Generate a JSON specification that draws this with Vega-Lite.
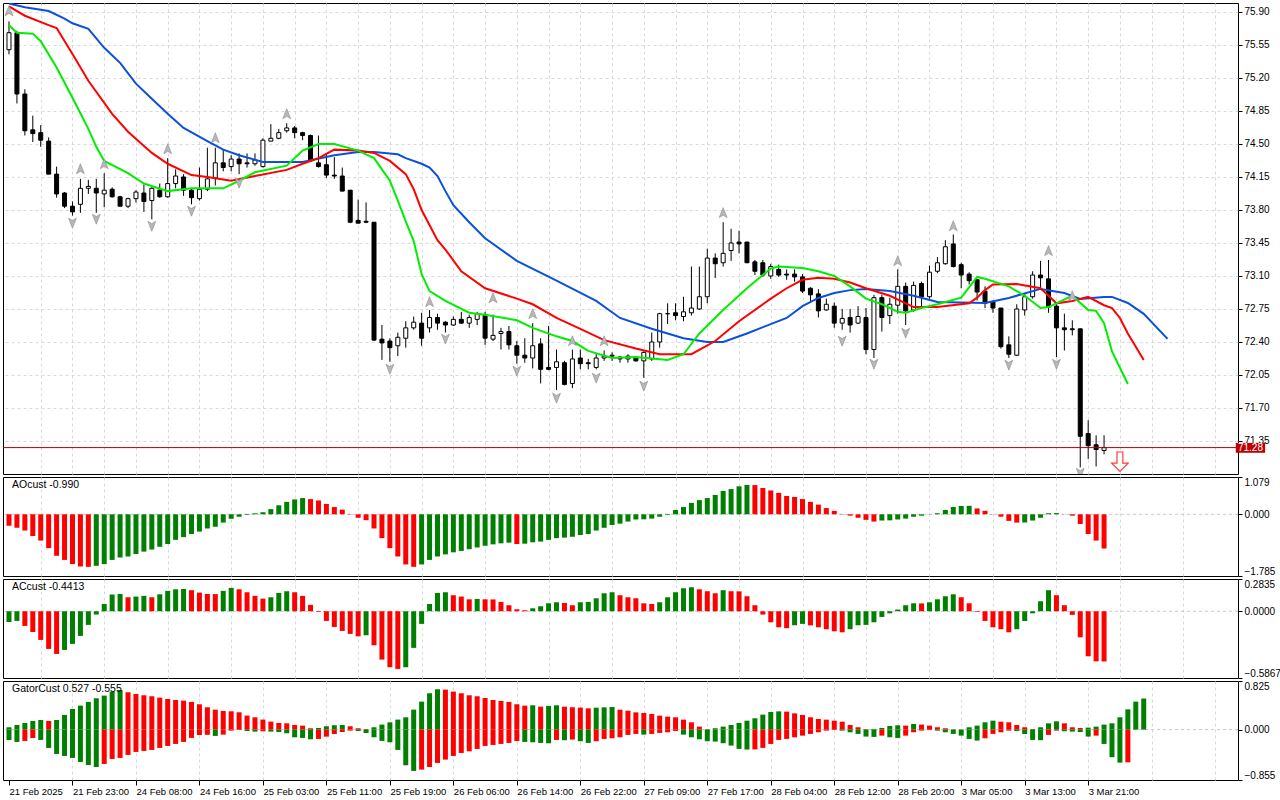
{
"$schema":"https://vega.github.io/schema/vega-lite/v6.json",
"padding":{"left":2,"top":2,"right":0,"bottom":0},
"background":"white",
"spacing":3,
"bounds":"flush",
"config":{"view":{"stroke":"black","strokeWidth":1},"concat":{"spacing":3},
"axis":{"labelFont":"Liberation Sans","labelFontSize":10,"labelColor":"black","tickColor":"black","domainColor":"black","gridColor":"#d9d9d9","gridDash":[3,3],"title":null,"labelOverlap":false},
"text":{"font":"Liberation Sans"}},
"datasets":{
"candles":[
{"i":0,"o":75.50,"h":75.80,"l":75.45,"c":75.68},{"i":1,"o":75.68,"h":75.70,"l":74.93,"c":75.03},{"i":2,"o":75.03,"h":75.08,"l":74.59,"c":74.64},{"i":3,"o":74.65,"h":74.80,"l":74.52,"c":74.61},{"i":4,"o":74.62,"h":74.70,"l":74.47,"c":74.54},{"i":5,"o":74.53,"h":74.57,"l":74.18,"c":74.18},{"i":6,"o":74.18,"h":74.26,"l":73.93,"c":73.97},{"i":7,"o":73.98,"h":73.99,"l":73.82,"c":73.84},{"i":8,"o":73.84,"h":73.89,"l":73.74,"c":73.78},{"i":9,"o":73.86,"h":74.13,"l":73.77,"c":74.03},
{"i":10,"o":74.03,"h":74.12,"l":73.97,"c":74.05},{"i":11,"o":74.03,"h":74.13,"l":73.77,"c":73.98},{"i":12,"o":73.97,"h":74.19,"l":73.83,"c":74.01},{"i":13,"o":74.02,"h":74.04,"l":73.93,"c":73.94},{"i":14,"o":73.94,"h":73.95,"l":73.84,"c":73.84},{"i":15,"o":73.84,"h":73.93,"l":73.82,"c":73.92},{"i":16,"o":73.92,"h":74.01,"l":73.88,"c":73.99},{"i":17,"o":73.98,"h":74.07,"l":73.78,"c":73.89},{"i":18,"o":73.90,"h":74.04,"l":73.70,"c":74.03},{"i":19,"o":74.01,"h":74.08,"l":73.93,"c":73.94},
{"i":20,"o":73.94,"h":74.35,"l":73.93,"c":74.08},{"i":21,"o":74.08,"h":74.23,"l":74.03,"c":74.16},{"i":22,"o":74.15,"h":74.18,"l":73.95,"c":74.01},{"i":23,"o":74.01,"h":74.03,"l":73.86,"c":73.93},{"i":24,"o":73.92,"h":74.25,"l":73.90,"c":74.02},{"i":25,"o":74.02,"h":74.46,"l":74.00,"c":74.13},{"i":26,"o":74.14,"h":74.46,"l":74.06,"c":74.30},{"i":27,"o":74.30,"h":74.44,"l":74.21,"c":74.25},{"i":28,"o":74.26,"h":74.38,"l":74.21,"c":74.34},{"i":29,"o":74.34,"h":74.40,"l":74.18,"c":74.29},
{"i":30,"o":74.30,"h":74.40,"l":74.25,"c":74.29},{"i":31,"o":74.29,"h":74.40,"l":74.27,"c":74.33},{"i":32,"o":74.26,"h":74.56,"l":74.25,"c":74.54},{"i":33,"o":74.53,"h":74.71,"l":74.53,"c":74.56},{"i":34,"o":74.56,"h":74.66,"l":74.55,"c":74.62},{"i":35,"o":74.64,"h":74.72,"l":74.62,"c":74.67},{"i":36,"o":74.67,"h":74.69,"l":74.56,"c":74.62},{"i":37,"o":74.62,"h":74.63,"l":74.54,"c":74.59},{"i":38,"o":74.59,"h":74.60,"l":74.31,"c":74.32},{"i":39,"o":74.30,"h":74.59,"l":74.25,"c":74.26},
{"i":40,"o":74.28,"h":74.40,"l":74.14,"c":74.17},{"i":41,"o":74.17,"h":74.36,"l":74.13,"c":74.16},{"i":42,"o":74.16,"h":74.25,"l":74.00,"c":74.00},{"i":43,"o":74.01,"h":74.01,"l":73.66,"c":73.67},{"i":44,"o":73.69,"h":73.91,"l":73.66,"c":73.66},{"i":45,"o":73.68,"h":73.88,"l":73.66,"c":73.67},{"i":46,"o":73.67,"h":73.67,"l":72.41,"c":72.42},{"i":47,"o":72.43,"h":72.58,"l":72.21,"c":72.39},{"i":48,"o":72.41,"h":72.44,"l":72.19,"c":72.34},{"i":49,"o":72.36,"h":72.50,"l":72.25,"c":72.45},
{"i":50,"o":72.44,"h":72.62,"l":72.34,"c":72.55},{"i":51,"o":72.55,"h":72.67,"l":72.53,"c":72.61},{"i":52,"o":72.60,"h":72.71,"l":72.36,"c":72.44},{"i":53,"o":72.55,"h":72.74,"l":72.50,"c":72.66},{"i":54,"o":72.66,"h":72.70,"l":72.53,"c":72.60},{"i":55,"o":72.61,"h":72.62,"l":72.50,"c":72.58},{"i":56,"o":72.58,"h":72.67,"l":72.57,"c":72.64},{"i":57,"o":72.64,"h":72.72,"l":72.59,"c":72.60},{"i":58,"o":72.60,"h":72.69,"l":72.55,"c":72.66},{"i":59,"o":72.64,"h":72.72,"l":72.58,"c":72.70},
{"i":60,"o":72.68,"h":72.72,"l":72.37,"c":72.44},{"i":61,"o":72.43,"h":72.69,"l":72.41,"c":72.47},{"i":62,"o":72.49,"h":72.55,"l":72.32,"c":72.51},{"i":63,"o":72.51,"h":72.57,"l":72.32,"c":72.37},{"i":64,"o":72.36,"h":72.41,"l":72.17,"c":72.26},{"i":65,"o":72.26,"h":72.44,"l":72.18,"c":72.23},{"i":66,"o":72.23,"h":72.60,"l":72.12,"c":72.36},{"i":67,"o":72.38,"h":72.44,"l":71.96,"c":72.11},{"i":68,"o":72.13,"h":72.57,"l":72.10,"c":72.11},{"i":69,"o":72.13,"h":72.32,"l":71.89,"c":72.19},
{"i":70,"o":72.18,"h":72.20,"l":71.94,"c":71.95},{"i":71,"o":71.96,"h":72.32,"l":71.91,"c":72.22},{"i":72,"o":72.23,"h":72.32,"l":72.11,"c":72.17},{"i":73,"o":72.18,"h":72.22,"l":72.11,"c":72.17},{"i":74,"o":72.13,"h":72.28,"l":72.11,"c":72.23},{"i":75,"o":72.23,"h":72.31,"l":72.20,"c":72.25},{"i":76,"o":72.25,"h":72.29,"l":72.20,"c":72.26},{"i":77,"o":72.24,"h":72.25,"l":72.18,"c":72.22},{"i":78,"o":72.22,"h":72.27,"l":72.18,"c":72.25},{"i":79,"o":72.24,"h":72.25,"l":72.19,"c":72.20},
{"i":80,"o":72.20,"h":72.30,"l":72.02,"c":72.29},{"i":81,"o":72.22,"h":72.50,"l":72.20,"c":72.40},{"i":82,"o":72.40,"h":72.71,"l":72.34,"c":72.70},{"i":83,"o":72.70,"h":72.81,"l":72.59,"c":72.70},{"i":84,"o":72.71,"h":72.81,"l":72.63,"c":72.68},{"i":85,"o":72.67,"h":72.88,"l":72.62,"c":72.72},{"i":86,"o":72.71,"h":73.20,"l":72.68,"c":72.76},{"i":87,"o":72.75,"h":73.20,"l":72.74,"c":72.88},{"i":88,"o":72.88,"h":73.39,"l":72.81,"c":73.29},{"i":89,"o":73.29,"h":73.34,"l":73.08,"c":73.23},
{"i":90,"o":73.24,"h":73.67,"l":73.20,"c":73.34},{"i":91,"o":73.37,"h":73.60,"l":73.26,"c":73.45},{"i":92,"o":73.46,"h":73.58,"l":73.34,"c":73.44},{"i":93,"o":73.46,"h":73.46,"l":73.24,"c":73.24},{"i":94,"o":73.25,"h":73.27,"l":73.11,"c":73.15},{"i":95,"o":73.24,"h":73.27,"l":73.09,"c":73.11},{"i":96,"o":73.10,"h":73.23,"l":73.07,"c":73.20},{"i":97,"o":73.17,"h":73.22,"l":73.09,"c":73.11},{"i":98,"o":73.12,"h":73.17,"l":73.06,"c":73.11},{"i":99,"o":73.12,"h":73.17,"l":73.04,"c":73.09},
{"i":100,"o":73.09,"h":73.12,"l":72.92,"c":72.94},{"i":101,"o":72.97,"h":72.98,"l":72.82,"c":72.90},{"i":102,"o":72.91,"h":72.96,"l":72.66,"c":72.73},{"i":103,"o":72.74,"h":72.86,"l":72.73,"c":72.80},{"i":104,"o":72.78,"h":72.82,"l":72.55,"c":72.60},{"i":105,"o":72.60,"h":72.75,"l":72.53,"c":72.65},{"i":106,"o":72.66,"h":72.75,"l":72.50,"c":72.58},{"i":107,"o":72.60,"h":72.78,"l":72.59,"c":72.67},{"i":108,"o":72.66,"h":72.76,"l":72.27,"c":72.32},{"i":109,"o":72.32,"h":72.90,"l":72.23,"c":72.87},
{"i":110,"o":72.87,"h":72.90,"l":72.51,"c":72.66},{"i":111,"o":72.68,"h":72.87,"l":72.59,"c":72.80},{"i":112,"o":72.79,"h":73.17,"l":72.70,"c":72.99},{"i":113,"o":72.99,"h":73.03,"l":72.58,"c":72.73},{"i":114,"o":72.74,"h":73.04,"l":72.72,"c":73.00},{"i":115,"o":73.02,"h":73.04,"l":72.78,"c":72.88},{"i":116,"o":72.88,"h":73.21,"l":72.86,"c":73.14},{"i":117,"o":73.15,"h":73.30,"l":73.13,"c":73.24},{"i":118,"o":73.23,"h":73.48,"l":73.22,"c":73.41},{"i":119,"o":73.44,"h":73.54,"l":73.19,"c":73.20},
{"i":120,"o":73.22,"h":73.24,"l":72.97,"c":73.11},{"i":121,"o":73.12,"h":73.14,"l":73.01,"c":73.05},{"i":122,"o":73.06,"h":73.07,"l":72.84,"c":72.93},{"i":123,"o":72.94,"h":72.99,"l":72.76,"c":72.81},{"i":124,"o":72.83,"h":72.84,"l":72.71,"c":72.76},{"i":125,"o":72.76,"h":72.76,"l":72.33,"c":72.35},{"i":126,"o":72.37,"h":72.46,"l":72.23,"c":72.27},{"i":127,"o":72.26,"h":72.80,"l":72.25,"c":72.75},{"i":128,"o":72.74,"h":72.92,"l":72.68,"c":72.88},{"i":129,"o":72.88,"h":73.15,"l":72.86,"c":73.11},
{"i":130,"o":73.11,"h":73.26,"l":72.97,"c":73.08},{"i":131,"o":73.07,"h":73.27,"l":72.71,"c":72.77},{"i":132,"o":72.78,"h":72.80,"l":72.24,"c":72.55},{"i":133,"o":72.55,"h":72.70,"l":72.31,"c":72.53},{"i":134,"o":72.54,"h":72.63,"l":72.47,"c":72.53},{"i":135,"o":72.54,"h":72.54,"l":71.07,"c":71.40},{"i":136,"o":71.43,"h":71.57,"l":71.16,"c":71.30},{"i":137,"o":71.31,"h":71.41,"l":71.08,"c":71.26},{"i":138,"o":71.25,"h":71.41,"l":71.21,"c":71.28}
],
"alligator":[
{"i":0,"k":"jaw","v":75.99},{"i":2,"k":"jaw","v":75.95},{"i":5,"k":"jaw","v":75.91},{"i":7,"k":"jaw","v":75.83},{"i":8,"k":"jaw","v":75.78},{"i":10,"k":"jaw","v":75.72},{"i":12,"k":"jaw","v":75.52},{"i":14,"k":"jaw","v":75.36},{"i":16,"k":"jaw","v":75.14},{"i":18,"k":"jaw","v":74.98},{"i":20,"k":"jaw","v":74.82},{"i":22,"k":"jaw","v":74.67},{"i":25,"k":"jaw","v":74.53},{"i":27,"k":"jaw","v":74.44},{"i":29,"k":"jaw","v":74.38},{"i":32,"k":"jaw","v":74.31},{"i":37,"k":"jaw","v":74.31},{"i":41,"k":"jaw","v":74.38},{"i":44,"k":"jaw","v":74.415},{"i":46,"k":"jaw","v":74.415},{"i":49,"k":"jaw","v":74.39},{"i":50,"k":"jaw","v":74.35},{"i":52,"k":"jaw","v":74.29},{"i":53,"k":"jaw","v":74.25},{"i":54,"k":"jaw","v":74.16},{"i":55,"k":"jaw","v":74.0},{"i":56,"k":"jaw","v":73.85},{"i":58,"k":"jaw","v":73.67},{"i":60,"k":"jaw","v":73.50},{"i":64,"k":"jaw","v":73.26},{"i":69,"k":"jaw","v":73.05},{"i":74,"k":"jaw","v":72.835},{"i":77,"k":"jaw","v":72.655},{"i":81,"k":"jaw","v":72.54},{"i":85,"k":"jaw","v":72.44},{"i":88,"k":"jaw","v":72.40},{"i":90,"k":"jaw","v":72.40},{"i":93,"k":"jaw","v":72.49},{"i":96,"k":"jaw","v":72.59},{"i":98,"k":"jaw","v":72.655},{"i":100,"k":"jaw","v":72.78},{"i":102,"k":"jaw","v":72.867},{"i":104,"k":"jaw","v":72.92},{"i":106,"k":"jaw","v":72.95},{"i":108,"k":"jaw","v":72.963},{"i":111,"k":"jaw","v":72.94},{"i":114,"k":"jaw","v":72.89},{"i":117,"k":"jaw","v":72.825},{"i":123,"k":"jaw","v":72.814},{"i":126,"k":"jaw","v":72.867},{"i":130,"k":"jaw","v":72.963},{"i":133,"k":"jaw","v":72.92},{"i":135,"k":"jaw","v":72.857},{"i":138,"k":"jaw","v":72.878},{"i":139,"k":"jaw","v":72.878},{"i":141,"k":"jaw","v":72.814},{"i":143,"k":"jaw","v":72.698},{"i":146,"k":"jaw","v":72.433},
{"i":0,"k":"teeth","v":75.96},{"i":2,"k":"teeth","v":75.86},{"i":5,"k":"teeth","v":75.76},{"i":6,"k":"teeth","v":75.73},{"i":8,"k":"teeth","v":75.455},{"i":10,"k":"teeth","v":75.17},{"i":13,"k":"teeth","v":74.82},{"i":15,"k":"teeth","v":74.63},{"i":18,"k":"teeth","v":74.405},{"i":20,"k":"teeth","v":74.29},{"i":23,"k":"teeth","v":74.17},{"i":25,"k":"teeth","v":74.15},{"i":28,"k":"teeth","v":74.11},{"i":31,"k":"teeth","v":74.16},{"i":35,"k":"teeth","v":74.225},{"i":37,"k":"teeth","v":74.29},{"i":39,"k":"teeth","v":74.35},{"i":41,"k":"teeth","v":74.44},{"i":44,"k":"teeth","v":74.43},{"i":46,"k":"teeth","v":74.405},{"i":48,"k":"teeth","v":74.32},{"i":50,"k":"teeth","v":74.18},{"i":51,"k":"teeth","v":74.02},{"i":52,"k":"teeth","v":73.80},{"i":54,"k":"teeth","v":73.48},{"i":55,"k":"teeth","v":73.38},{"i":57,"k":"teeth","v":73.15},{"i":60,"k":"teeth","v":72.97},{"i":64,"k":"teeth","v":72.86},{"i":66,"k":"teeth","v":72.80},{"i":69,"k":"teeth","v":72.655},{"i":72,"k":"teeth","v":72.54},{"i":75,"k":"teeth","v":72.42},{"i":79,"k":"teeth","v":72.33},{"i":82,"k":"teeth","v":72.27},{"i":86,"k":"teeth","v":72.27},{"i":89,"k":"teeth","v":72.41},{"i":92,"k":"teeth","v":72.62},{"i":96,"k":"teeth","v":72.86},{"i":98,"k":"teeth","v":72.97},{"i":100,"k":"teeth","v":73.06},{"i":102,"k":"teeth","v":73.08},{"i":104,"k":"teeth","v":73.07},{"i":106,"k":"teeth","v":73.03},{"i":108,"k":"teeth","v":72.97},{"i":111,"k":"teeth","v":72.89},{"i":114,"k":"teeth","v":72.77},{"i":117,"k":"teeth","v":72.77},{"i":121,"k":"teeth","v":72.81},{"i":122,"k":"teeth","v":72.87},{"i":123,"k":"teeth","v":72.95},{"i":124,"k":"teeth","v":73.01},{"i":127,"k":"teeth","v":73.016},{"i":130,"k":"teeth","v":72.97},{"i":132,"k":"teeth","v":72.81},{"i":134,"k":"teeth","v":72.835},{"i":136,"k":"teeth","v":72.878},{"i":138,"k":"teeth","v":72.79},{"i":139,"k":"teeth","v":72.76},{"i":140,"k":"teeth","v":72.655},{"i":141,"k":"teeth","v":72.49},{"i":143,"k":"teeth","v":72.21},
{"i":0,"k":"lips","v":75.76},{"i":1,"k":"lips","v":75.68},{"i":3,"k":"lips","v":75.67},{"i":4,"k":"lips","v":75.59},{"i":6,"k":"lips","v":75.31},{"i":8,"k":"lips","v":74.99},{"i":10,"k":"lips","v":74.66},{"i":11,"k":"lips","v":74.47},{"i":12,"k":"lips","v":74.32},{"i":15,"k":"lips","v":74.19},{"i":17,"k":"lips","v":74.08},{"i":20,"k":"lips","v":74.00},{"i":23,"k":"lips","v":74.03},{"i":27,"k":"lips","v":74.03},{"i":29,"k":"lips","v":74.11},{"i":31,"k":"lips","v":74.20},{"i":35,"k":"lips","v":74.27},{"i":37,"k":"lips","v":74.43},{"i":39,"k":"lips","v":74.50},{"i":41,"k":"lips","v":74.50},{"i":44,"k":"lips","v":74.43},{"i":46,"k":"lips","v":74.35},{"i":48,"k":"lips","v":74.11},{"i":49,"k":"lips","v":73.90},{"i":50,"k":"lips","v":73.68},{"i":51,"k":"lips","v":73.47},{"i":52,"k":"lips","v":73.12},{"i":53,"k":"lips","v":72.94},{"i":55,"k":"lips","v":72.835},{"i":58,"k":"lips","v":72.71},{"i":60,"k":"lips","v":72.69},{"i":64,"k":"lips","v":72.63},{"i":66,"k":"lips","v":72.55},{"i":69,"k":"lips","v":72.46},{"i":71,"k":"lips","v":72.41},{"i":73,"k":"lips","v":72.305},{"i":76,"k":"lips","v":72.23},{"i":79,"k":"lips","v":72.24},{"i":83,"k":"lips","v":72.21},{"i":85,"k":"lips","v":72.27},{"i":87,"k":"lips","v":72.49},{"i":90,"k":"lips","v":72.74},{"i":93,"k":"lips","v":72.97},{"i":96,"k":"lips","v":73.18},{"i":97,"k":"lips","v":73.20},{"i":100,"k":"lips","v":73.185},{"i":102,"k":"lips","v":73.15},{"i":104,"k":"lips","v":73.10},{"i":106,"k":"lips","v":72.99},{"i":108,"k":"lips","v":72.86},{"i":110,"k":"lips","v":72.80},{"i":112,"k":"lips","v":72.72},{"i":113,"k":"lips","v":72.71},{"i":115,"k":"lips","v":72.76},{"i":117,"k":"lips","v":72.80},{"i":120,"k":"lips","v":72.87},{"i":122,"k":"lips","v":73.09},{"i":123,"k":"lips","v":73.07},{"i":126,"k":"lips","v":72.99},{"i":128,"k":"lips","v":72.89},{"i":130,"k":"lips","v":72.76},{"i":131,"k":"lips","v":72.77},{"i":134,"k":"lips","v":72.89},{"i":136,"k":"lips","v":72.74},{"i":137,"k":"lips","v":72.73},{"i":138,"k":"lips","v":72.60},{"i":139,"k":"lips","v":72.30},{"i":141,"k":"lips","v":71.955}
],
"fractals":[
{"i":0,"p":75.91,"d":"up"},{"i":9,"p":74.235,"d":"up"},{"i":12,"p":74.288,"d":"up"},{"i":20,"p":74.447,"d":"up"},{"i":26,"p":74.564,"d":"up"},{"i":35,"p":74.818,"d":"up"},{"i":53,"p":72.825,"d":"up"},{"i":61,"p":72.867,"d":"up"},{"i":66,"p":72.698,"d":"up"},{"i":71,"p":72.411,"d":"up"},{"i":75,"p":72.411,"d":"up"},{"i":90,"p":73.769,"d":"up"},{"i":112,"p":73.26,"d":"up"},{"i":119,"p":73.63,"d":"up"},{"i":131,"p":73.366,"d":"up"},{"i":134,"p":72.888,"d":"up"},
{"i":8,"p":73.663,"d":"down"},{"i":11,"p":73.705,"d":"down"},{"i":18,"p":73.63,"d":"down"},{"i":23,"p":73.79,"d":"down"},{"i":29,"p":74.087,"d":"down"},{"i":48,"p":72.114,"d":"down"},{"i":55,"p":72.433,"d":"down"},{"i":64,"p":72.093,"d":"down"},{"i":69,"p":71.807,"d":"down"},{"i":74,"p":72.019,"d":"down"},{"i":80,"p":71.934,"d":"down"},{"i":105,"p":72.411,"d":"down"},{"i":109,"p":72.167,"d":"down"},{"i":113,"p":72.496,"d":"down"},{"i":126,"p":72.157,"d":"down"},{"i":132,"p":72.167,"d":"down"},{"i":135,"p":71.01,"d":"down"}
],
"signal":[{"i":140,"p":71.13}],
"ao":[
{"i":0,"v":-0.33,"d":"d"},{"i":1,"v":-0.39,"d":"d"},{"i":2,"v":-0.47,"d":"d"},{"i":3,"v":-0.63,"d":"d"},{"i":4,"v":-0.76,"d":"d"},{"i":5,"v":-0.98,"d":"d"},{"i":6,"v":-1.20,"d":"d"},{"i":7,"v":-1.32,"d":"d"},{"i":8,"v":-1.44,"d":"d"},{"i":9,"v":-1.51,"d":"d"},
{"i":10,"v":-1.52,"d":"d"},{"i":11,"v":-1.49,"d":"u"},{"i":12,"v":-1.44,"d":"u"},{"i":13,"v":-1.32,"d":"u"},{"i":14,"v":-1.25,"d":"u"},{"i":15,"v":-1.22,"d":"u"},{"i":16,"v":-1.15,"d":"u"},{"i":17,"v":-1.08,"d":"u"},{"i":18,"v":-1.02,"d":"u"},{"i":19,"v":-0.94,"d":"u"},
{"i":20,"v":-0.86,"d":"u"},{"i":21,"v":-0.74,"d":"u"},{"i":22,"v":-0.66,"d":"u"},{"i":23,"v":-0.57,"d":"u"},{"i":24,"v":-0.50,"d":"u"},{"i":25,"v":-0.41,"d":"u"},{"i":26,"v":-0.36,"d":"u"},{"i":27,"v":-0.24,"d":"u"},{"i":28,"v":-0.13,"d":"u"},{"i":29,"v":-0.07,"d":"u"},
{"i":30,"v":-0.02,"d":"u"},{"i":31,"v":0.03,"d":"u"},{"i":32,"v":0.06,"d":"u"},{"i":33,"v":0.15,"d":"u"},{"i":34,"v":0.26,"d":"u"},{"i":35,"v":0.36,"d":"u"},{"i":36,"v":0.43,"d":"u"},{"i":37,"v":0.47,"d":"u"},{"i":38,"v":0.44,"d":"d"},{"i":39,"v":0.40,"d":"d"},
{"i":40,"v":0.30,"d":"d"},{"i":41,"v":0.21,"d":"d"},{"i":42,"v":0.135,"d":"d"},{"i":43,"v":0.01,"d":"d"},{"i":44,"v":-0.10,"d":"d"},{"i":45,"v":-0.17,"d":"d"},{"i":46,"v":-0.41,"d":"d"},{"i":47,"v":-0.69,"d":"d"},{"i":48,"v":-0.98,"d":"d"},{"i":49,"v":-1.22,"d":"d"},
{"i":50,"v":-1.45,"d":"d"},{"i":51,"v":-1.52,"d":"d"},{"i":52,"v":-1.45,"d":"u"},{"i":53,"v":-1.32,"d":"u"},{"i":54,"v":-1.22,"d":"u"},{"i":55,"v":-1.16,"d":"u"},{"i":56,"v":-1.10,"d":"u"},{"i":57,"v":-1.06,"d":"u"},{"i":58,"v":-1.01,"d":"u"},{"i":59,"v":-0.96,"d":"u"},
{"i":60,"v":-0.91,"d":"u"},{"i":61,"v":-0.87,"d":"u"},{"i":62,"v":-0.84,"d":"u"},{"i":63,"v":-0.82,"d":"u"},{"i":64,"v":-0.86,"d":"d"},{"i":65,"v":-0.85,"d":"u"},{"i":66,"v":-0.81,"d":"u"},{"i":67,"v":-0.79,"d":"u"},{"i":68,"v":-0.74,"d":"u"},{"i":69,"v":-0.69,"d":"u"},
{"i":70,"v":-0.675,"d":"u"},{"i":71,"v":-0.65,"d":"u"},{"i":72,"v":-0.60,"d":"u"},{"i":73,"v":-0.57,"d":"u"},{"i":74,"v":-0.47,"d":"u"},{"i":75,"v":-0.39,"d":"u"},{"i":76,"v":-0.31,"d":"u"},{"i":77,"v":-0.27,"d":"u"},{"i":78,"v":-0.21,"d":"u"},{"i":79,"v":-0.15,"d":"u"},
{"i":80,"v":-0.145,"d":"u"},{"i":81,"v":-0.125,"d":"u"},{"i":82,"v":-0.07,"d":"u"},{"i":83,"v":-0.02,"d":"u"},{"i":84,"v":0.125,"d":"u"},{"i":85,"v":0.21,"d":"u"},{"i":86,"v":0.33,"d":"u"},{"i":87,"v":0.41,"d":"u"},{"i":88,"v":0.47,"d":"u"},{"i":89,"v":0.56,"d":"u"},
{"i":90,"v":0.675,"d":"u"},{"i":91,"v":0.73,"d":"u"},{"i":92,"v":0.81,"d":"u"},{"i":93,"v":0.85,"d":"u"},{"i":94,"v":0.845,"d":"d"},{"i":95,"v":0.76,"d":"d"},{"i":96,"v":0.69,"d":"d"},{"i":97,"v":0.62,"d":"d"},{"i":98,"v":0.53,"d":"d"},{"i":99,"v":0.50,"d":"d"},
{"i":100,"v":0.44,"d":"d"},{"i":101,"v":0.36,"d":"d"},{"i":102,"v":0.28,"d":"d"},{"i":103,"v":0.18,"d":"d"},{"i":104,"v":0.10,"d":"d"},{"i":105,"v":0.01,"d":"d"},{"i":106,"v":-0.04,"d":"d"},{"i":107,"v":-0.10,"d":"d"},{"i":108,"v":-0.16,"d":"d"},{"i":109,"v":-0.21,"d":"d"},
{"i":110,"v":-0.18,"d":"u"},{"i":111,"v":-0.175,"d":"u"},{"i":112,"v":-0.15,"d":"u"},{"i":113,"v":-0.125,"d":"u"},{"i":114,"v":-0.07,"d":"u"},{"i":115,"v":-0.04,"d":"u"},{"i":116,"v":0.005,"d":"u"},{"i":117,"v":0.03,"d":"u"},{"i":118,"v":0.125,"d":"u"},{"i":119,"v":0.21,"d":"u"},
{"i":120,"v":0.24,"d":"u"},{"i":121,"v":0.245,"d":"u"},{"i":122,"v":0.17,"d":"d"},{"i":123,"v":0.10,"d":"d"},{"i":124,"v":-0.005,"d":"d"},{"i":125,"v":-0.07,"d":"d"},{"i":126,"v":-0.19,"d":"d"},{"i":127,"v":-0.24,"d":"d"},{"i":128,"v":-0.235,"d":"u"},{"i":129,"v":-0.18,"d":"u"},
{"i":130,"v":-0.10,"d":"u"},{"i":131,"v":0.03,"d":"u"},{"i":132,"v":0.035,"d":"u"},{"i":133,"v":0.005,"d":"d"},{"i":134,"v":-0.04,"d":"d"},{"i":135,"v":-0.28,"d":"d"},{"i":136,"v":-0.57,"d":"d"},{"i":137,"v":-0.76,"d":"d"},{"i":138,"v":-0.99,"d":"d"}
],
"ac":[
{"i":0,"v":-0.094,"d":"u"},{"i":1,"v":-0.085,"d":"u"},{"i":2,"v":-0.129,"d":"d"},{"i":3,"v":-0.182,"d":"d"},{"i":4,"v":-0.252,"d":"d"},{"i":5,"v":-0.331,"d":"d"},{"i":6,"v":-0.375,"d":"d"},{"i":7,"v":-0.340,"d":"u"},{"i":8,"v":-0.287,"d":"u"},{"i":9,"v":-0.217,"d":"u"},
{"i":10,"v":-0.120,"d":"u"},{"i":11,"v":-0.029,"d":"u"},{"i":12,"v":0.064,"d":"u"},{"i":13,"v":0.147,"d":"u"},{"i":14,"v":0.152,"d":"u"},{"i":15,"v":0.123,"d":"d"},{"i":16,"v":0.129,"d":"u"},{"i":17,"v":0.135,"d":"u"},{"i":18,"v":0.123,"d":"d"},{"i":19,"v":0.149,"d":"u"},
{"i":20,"v":0.179,"d":"u"},{"i":21,"v":0.193,"d":"u"},{"i":22,"v":0.196,"d":"u"},{"i":23,"v":0.185,"d":"d"},{"i":24,"v":0.164,"d":"d"},{"i":25,"v":0.152,"d":"d"},{"i":26,"v":0.151,"d":"d"},{"i":27,"v":0.179,"d":"u"},{"i":28,"v":0.205,"d":"u"},{"i":29,"v":0.193,"d":"d"},
{"i":30,"v":0.167,"d":"d"},{"i":31,"v":0.135,"d":"d"},{"i":32,"v":0.111,"d":"d"},{"i":33,"v":0.123,"d":"u"},{"i":34,"v":0.161,"d":"u"},{"i":35,"v":0.176,"d":"u"},{"i":36,"v":0.167,"d":"d"},{"i":37,"v":0.135,"d":"d"},{"i":38,"v":0.056,"d":"d"},{"i":39,"v":-0.006,"d":"d"},
{"i":40,"v":-0.085,"d":"d"},{"i":41,"v":-0.138,"d":"d"},{"i":42,"v":-0.173,"d":"d"},{"i":43,"v":-0.199,"d":"d"},{"i":44,"v":-0.220,"d":"d"},{"i":45,"v":-0.211,"d":"u"},{"i":46,"v":-0.299,"d":"d"},{"i":47,"v":-0.425,"d":"d"},{"i":48,"v":-0.492,"d":"d"},{"i":49,"v":-0.507,"d":"d"},
{"i":50,"v":-0.492,"d":"u"},{"i":51,"v":-0.322,"d":"u"},{"i":52,"v":-0.111,"d":"u"},{"i":53,"v":0.064,"d":"u"},{"i":54,"v":0.161,"d":"u"},{"i":55,"v":0.167,"d":"u"},{"i":56,"v":0.141,"d":"d"},{"i":57,"v":0.129,"d":"d"},{"i":58,"v":0.105,"d":"d"},{"i":59,"v":0.108,"d":"u"},
{"i":60,"v":0.105,"d":"d"},{"i":61,"v":0.104,"d":"d"},{"i":62,"v":0.082,"d":"d"},{"i":63,"v":0.053,"d":"d"},{"i":64,"v":0.018,"d":"d"},{"i":65,"v":0.009,"d":"d"},{"i":66,"v":0.026,"d":"u"},{"i":67,"v":0.044,"d":"u"},{"i":68,"v":0.070,"d":"u"},{"i":69,"v":0.079,"d":"u"},
{"i":70,"v":0.073,"d":"d"},{"i":71,"v":0.053,"d":"d"},{"i":72,"v":0.079,"d":"u"},{"i":73,"v":0.082,"d":"u"},{"i":74,"v":0.114,"d":"u"},{"i":75,"v":0.158,"d":"u"},{"i":76,"v":0.167,"d":"u"},{"i":77,"v":0.141,"d":"d"},{"i":78,"v":0.123,"d":"d"},{"i":79,"v":0.114,"d":"d"},
{"i":80,"v":0.070,"d":"d"},{"i":81,"v":0.064,"d":"d"},{"i":82,"v":0.079,"d":"u"},{"i":83,"v":0.123,"d":"u"},{"i":84,"v":0.167,"d":"u"},{"i":85,"v":0.202,"d":"u"},{"i":86,"v":0.211,"d":"u"},{"i":87,"v":0.193,"d":"d"},{"i":88,"v":0.176,"d":"d"},{"i":89,"v":0.158,"d":"d"},
{"i":90,"v":0.185,"d":"u"},{"i":91,"v":0.176,"d":"d"},{"i":92,"v":0.175,"d":"d"},{"i":93,"v":0.132,"d":"d"},{"i":94,"v":0.053,"d":"d"},{"i":95,"v":-0.029,"d":"d"},{"i":96,"v":-0.097,"d":"d"},{"i":97,"v":-0.141,"d":"d"},{"i":98,"v":-0.149,"d":"d"},{"i":99,"v":-0.123,"d":"u"},
{"i":100,"v":-0.111,"d":"u"},{"i":101,"v":-0.124,"d":"d"},{"i":102,"v":-0.141,"d":"d"},{"i":103,"v":-0.158,"d":"d"},{"i":104,"v":-0.176,"d":"d"},{"i":105,"v":-0.185,"d":"d"},{"i":106,"v":-0.158,"d":"u"},{"i":107,"v":-0.123,"d":"u"},{"i":108,"v":-0.120,"d":"u"},{"i":109,"v":-0.097,"d":"u"},
{"i":110,"v":-0.050,"d":"u"},{"i":111,"v":-0.018,"d":"u"},{"i":112,"v":0.015,"d":"u"},{"i":113,"v":0.053,"d":"u"},{"i":114,"v":0.070,"d":"u"},{"i":115,"v":0.069,"d":"d"},{"i":116,"v":0.079,"d":"u"},{"i":117,"v":0.105,"d":"u"},{"i":118,"v":0.132,"d":"u"},{"i":119,"v":0.149,"d":"u"},
{"i":120,"v":0.123,"d":"d"},{"i":121,"v":0.070,"d":"d"},{"i":122,"v":-0.006,"d":"d"},{"i":123,"v":-0.085,"d":"d"},{"i":124,"v":-0.141,"d":"d"},{"i":125,"v":-0.158,"d":"d"},{"i":126,"v":-0.185,"d":"d"},{"i":127,"v":-0.158,"d":"u"},{"i":128,"v":-0.085,"d":"u"},{"i":129,"v":-0.018,"d":"u"},
{"i":130,"v":0.088,"d":"u"},{"i":131,"v":0.185,"d":"u"},{"i":132,"v":0.141,"d":"d"},{"i":133,"v":0.053,"d":"d"},{"i":134,"v":-0.032,"d":"d"},{"i":135,"v":-0.229,"d":"d"},{"i":136,"v":-0.396,"d":"d"},{"i":137,"v":-0.440,"d":"d"},{"i":138,"v":-0.4413,"d":"d"}
],
"gator":[
{"i":0,"v":0.040,"d":"u"},{"i":1,"v":0.079,"d":"u"},{"i":2,"v":0.113,"d":"u"},{"i":3,"v":0.147,"d":"u"},{"i":4,"v":0.164,"d":"u"},{"i":5,"v":0.147,"d":"d"},{"i":6,"v":0.164,"d":"u"},{"i":7,"v":0.249,"d":"u"},{"i":8,"v":0.351,"d":"u"},{"i":9,"v":0.407,"d":"u"},
{"i":10,"v":0.470,"d":"u"},{"i":11,"v":0.532,"d":"u"},{"i":12,"v":0.577,"d":"u"},{"i":13,"v":0.645,"d":"u"},{"i":14,"v":0.673,"d":"u"},{"i":15,"v":0.634,"d":"d"},{"i":16,"v":0.605,"d":"d"},{"i":17,"v":0.583,"d":"d"},{"i":18,"v":0.566,"d":"d"},{"i":19,"v":0.543,"d":"d"},
{"i":20,"v":0.520,"d":"d"},{"i":21,"v":0.503,"d":"d"},{"i":22,"v":0.492,"d":"d"},{"i":23,"v":0.470,"d":"d"},{"i":24,"v":0.430,"d":"d"},{"i":25,"v":0.379,"d":"d"},{"i":26,"v":0.339,"d":"d"},{"i":27,"v":0.317,"d":"d"},{"i":28,"v":0.311,"d":"d"},{"i":29,"v":0.294,"d":"d"},
{"i":30,"v":0.238,"d":"d"},{"i":31,"v":0.209,"d":"d"},{"i":32,"v":0.170,"d":"d"},{"i":33,"v":0.136,"d":"d"},{"i":34,"v":0.113,"d":"d"},{"i":35,"v":0.107,"d":"d"},{"i":36,"v":0.079,"d":"d"},{"i":37,"v":0.068,"d":"d"},{"i":38,"v":0.023,"d":"d"},{"i":39,"v":0.028,"d":"u"},
{"i":40,"v":0.057,"d":"u"},{"i":41,"v":0.074,"d":"u"},{"i":42,"v":0.079,"d":"u"},{"i":43,"v":0.057,"d":"d"},{"i":44,"v":0.023,"d":"d"},{"i":45,"v":0.011,"d":"d"},{"i":46,"v":0.040,"d":"u"},{"i":47,"v":0.085,"d":"u"},{"i":48,"v":0.124,"d":"u"},{"i":49,"v":0.170,"d":"u"},
{"i":50,"v":0.209,"d":"u"},{"i":51,"v":0.339,"d":"u"},{"i":52,"v":0.475,"d":"u"},{"i":53,"v":0.617,"d":"u"},{"i":54,"v":0.685,"d":"u"},{"i":55,"v":0.679,"d":"d"},{"i":56,"v":0.645,"d":"d"},{"i":57,"v":0.617,"d":"d"},{"i":58,"v":0.583,"d":"d"},{"i":59,"v":0.566,"d":"d"},
{"i":60,"v":0.537,"d":"d"},{"i":61,"v":0.503,"d":"d"},{"i":62,"v":0.487,"d":"d"},{"i":63,"v":0.470,"d":"d"},{"i":64,"v":0.430,"d":"d"},{"i":65,"v":0.407,"d":"d"},{"i":66,"v":0.413,"d":"u"},{"i":67,"v":0.390,"d":"d"},{"i":68,"v":0.402,"d":"u"},{"i":69,"v":0.413,"d":"u"},
{"i":70,"v":0.389,"d":"d"},{"i":71,"v":0.380,"d":"d"},{"i":72,"v":0.374,"d":"d"},{"i":73,"v":0.361,"d":"d"},{"i":74,"v":0.372,"d":"u"},{"i":75,"v":0.378,"d":"u"},{"i":76,"v":0.384,"d":"u"},{"i":77,"v":0.338,"d":"d"},{"i":78,"v":0.321,"d":"d"},{"i":79,"v":0.293,"d":"d"},
{"i":80,"v":0.282,"d":"d"},{"i":81,"v":0.265,"d":"d"},{"i":82,"v":0.237,"d":"d"},{"i":83,"v":0.220,"d":"d"},{"i":84,"v":0.209,"d":"d"},{"i":85,"v":0.169,"d":"d"},{"i":86,"v":0.124,"d":"d"},{"i":87,"v":0.051,"d":"d"},{"i":88,"v":0.008,"d":"d"},{"i":89,"v":0.023,"d":"u"},
{"i":90,"v":0.051,"d":"u"},{"i":91,"v":0.079,"d":"u"},{"i":92,"v":0.113,"d":"u"},{"i":93,"v":0.152,"d":"u"},{"i":94,"v":0.192,"d":"u"},{"i":95,"v":0.254,"d":"u"},{"i":96,"v":0.299,"d":"u"},{"i":97,"v":0.310,"d":"u"},{"i":98,"v":0.305,"d":"d"},{"i":99,"v":0.276,"d":"d"},
{"i":100,"v":0.248,"d":"d"},{"i":101,"v":0.209,"d":"d"},{"i":102,"v":0.180,"d":"d"},{"i":103,"v":0.169,"d":"d"},{"i":104,"v":0.152,"d":"d"},{"i":105,"v":0.135,"d":"d"},{"i":106,"v":0.079,"d":"d"},{"i":107,"v":0.040,"d":"d"},{"i":108,"v":0.008,"d":"d"},{"i":109,"v":0.012,"d":"u"},
{"i":110,"v":0.028,"d":"u"},{"i":111,"v":0.062,"d":"u"},{"i":112,"v":0.073,"d":"u"},{"i":113,"v":0.068,"d":"d"},{"i":114,"v":0.096,"d":"u"},{"i":115,"v":0.085,"d":"d"},{"i":116,"v":0.068,"d":"d"},{"i":117,"v":0.040,"d":"d"},{"i":118,"v":0.023,"d":"d"},{"i":119,"v":0.006,"d":"d"},
{"i":120,"v":0.003,"d":"d"},{"i":121,"v":0.040,"d":"u"},{"i":122,"v":0.068,"d":"u"},{"i":123,"v":0.124,"d":"u"},{"i":124,"v":0.152,"d":"u"},{"i":125,"v":0.135,"d":"d"},{"i":126,"v":0.124,"d":"d"},{"i":127,"v":0.079,"d":"d"},{"i":128,"v":0.040,"d":"d"},{"i":129,"v":0.011,"d":"d"},
{"i":130,"v":0.040,"d":"u"},{"i":131,"v":0.107,"d":"u"},{"i":132,"v":0.141,"d":"u"},{"i":133,"v":0.107,"d":"d"},{"i":134,"v":0.040,"d":"d"},{"i":135,"v":0.028,"d":"d"},{"i":136,"v":0.034,"d":"u"},{"i":137,"v":0.051,"d":"u"},{"i":138,"v":0.085,"d":"u"},{"i":139,"v":0.107,"d":"u"},
{"i":140,"v":0.209,"d":"u"},{"i":141,"v":0.344,"d":"u"},{"i":142,"v":0.475,"d":"u"},{"i":143,"v":0.527,"d":"u"},
{"i":0,"v":-0.175,"d":"u"},{"i":1,"v":-0.209,"d":"u"},{"i":2,"v":-0.192,"d":"d"},{"i":3,"v":-0.141,"d":"d"},{"i":4,"v":-0.175,"d":"u"},{"i":5,"v":-0.311,"d":"u"},{"i":6,"v":-0.413,"d":"u"},{"i":7,"v":-0.447,"d":"u"},{"i":8,"v":-0.481,"d":"u"},{"i":9,"v":-0.549,"d":"u"},
{"i":10,"v":-0.600,"d":"u"},{"i":11,"v":-0.634,"d":"u"},{"i":12,"v":-0.583,"d":"d"},{"i":13,"v":-0.498,"d":"d"},{"i":14,"v":-0.481,"d":"d"},{"i":15,"v":-0.430,"d":"d"},{"i":16,"v":-0.379,"d":"d"},{"i":17,"v":-0.362,"d":"d"},{"i":18,"v":-0.345,"d":"d"},{"i":19,"v":-0.311,"d":"d"},
{"i":20,"v":-0.277,"d":"d"},{"i":21,"v":-0.243,"d":"d"},{"i":22,"v":-0.209,"d":"d"},{"i":23,"v":-0.141,"d":"d"},{"i":24,"v":-0.091,"d":"d"},{"i":25,"v":-0.088,"d":"d"},{"i":26,"v":-0.107,"d":"u"},{"i":27,"v":-0.085,"d":"d"},{"i":28,"v":-0.017,"d":"d"},{"i":29,"v":-0.006,"d":"d"},
{"i":30,"v":-0.023,"d":"u"},{"i":31,"v":-0.034,"d":"u"},{"i":32,"v":-0.028,"d":"d"},{"i":33,"v":-0.034,"d":"u"},{"i":34,"v":-0.040,"d":"u"},{"i":35,"v":-0.062,"d":"u"},{"i":36,"v":-0.130,"d":"u"},{"i":37,"v":-0.141,"d":"u"},{"i":38,"v":-0.164,"d":"u"},{"i":39,"v":-0.158,"d":"d"},
{"i":40,"v":-0.119,"d":"d"},{"i":41,"v":-0.074,"d":"d"},{"i":42,"v":-0.040,"d":"d"},{"i":43,"v":-0.017,"d":"d"},{"i":44,"v":-0.023,"d":"u"},{"i":45,"v":-0.057,"d":"u"},{"i":46,"v":-0.130,"d":"u"},{"i":47,"v":-0.192,"d":"u"},{"i":48,"v":-0.215,"d":"u"},{"i":49,"v":-0.345,"d":"u"},
{"i":50,"v":-0.605,"d":"u"},{"i":51,"v":-0.701,"d":"u"},{"i":52,"v":-0.679,"d":"d"},{"i":53,"v":-0.634,"d":"d"},{"i":54,"v":-0.566,"d":"d"},{"i":55,"v":-0.509,"d":"d"},{"i":56,"v":-0.447,"d":"d"},{"i":57,"v":-0.396,"d":"d"},{"i":58,"v":-0.368,"d":"d"},{"i":59,"v":-0.328,"d":"d"},
{"i":60,"v":-0.277,"d":"d"},{"i":61,"v":-0.260,"d":"d"},{"i":62,"v":-0.243,"d":"d"},{"i":63,"v":-0.226,"d":"d"},{"i":64,"v":-0.192,"d":"d"},{"i":65,"v":-0.209,"d":"u"},{"i":66,"v":-0.215,"d":"u"},{"i":67,"v":-0.226,"d":"u"},{"i":68,"v":-0.232,"d":"u"},{"i":69,"v":-0.175,"d":"d"},
{"i":70,"v":-0.180,"d":"u"},{"i":71,"v":-0.169,"d":"d"},{"i":72,"v":-0.197,"d":"u"},{"i":73,"v":-0.226,"d":"u"},{"i":74,"v":-0.197,"d":"d"},{"i":75,"v":-0.158,"d":"d"},{"i":76,"v":-0.147,"d":"d"},{"i":77,"v":-0.130,"d":"d"},{"i":78,"v":-0.090,"d":"d"},{"i":79,"v":-0.073,"d":"d"},
{"i":80,"v":-0.085,"d":"u"},{"i":81,"v":-0.073,"d":"d"},{"i":82,"v":-0.056,"d":"d"},{"i":83,"v":-0.045,"d":"d"},{"i":84,"v":-0.023,"d":"d"},{"i":85,"v":-0.085,"d":"u"},{"i":86,"v":-0.130,"d":"u"},{"i":87,"v":-0.164,"d":"u"},{"i":88,"v":-0.197,"d":"u"},{"i":89,"v":-0.203,"d":"u"},
{"i":90,"v":-0.231,"d":"u"},{"i":91,"v":-0.271,"d":"u"},{"i":92,"v":-0.327,"d":"u"},{"i":93,"v":-0.338,"d":"u"},{"i":94,"v":-0.336,"d":"d"},{"i":95,"v":-0.310,"d":"d"},{"i":96,"v":-0.243,"d":"d"},{"i":97,"v":-0.175,"d":"d"},{"i":98,"v":-0.158,"d":"d"},{"i":99,"v":-0.130,"d":"d"},
{"i":100,"v":-0.102,"d":"d"},{"i":101,"v":-0.073,"d":"d"},{"i":102,"v":-0.045,"d":"d"},{"i":103,"v":-0.017,"d":"d"},{"i":104,"v":-0.006,"d":"d"},{"i":105,"v":-0.017,"d":"u"},{"i":106,"v":-0.045,"d":"u"},{"i":107,"v":-0.073,"d":"u"},{"i":108,"v":-0.118,"d":"u"},{"i":109,"v":-0.124,"d":"u"},
{"i":110,"v":-0.102,"d":"d"},{"i":111,"v":-0.130,"d":"u"},{"i":112,"v":-0.141,"d":"u"},{"i":113,"v":-0.102,"d":"d"},{"i":114,"v":-0.045,"d":"d"},{"i":115,"v":-0.017,"d":"d"},{"i":116,"v":-0.006,"d":"d"},{"i":117,"v":-0.017,"d":"u"},{"i":118,"v":-0.045,"d":"u"},{"i":119,"v":-0.073,"d":"u"},
{"i":120,"v":-0.102,"d":"u"},{"i":121,"v":-0.158,"d":"u"},{"i":122,"v":-0.186,"d":"u"},{"i":123,"v":-0.147,"d":"d"},{"i":124,"v":-0.073,"d":"d"},{"i":125,"v":-0.045,"d":"d"},{"i":126,"v":-0.017,"d":"d"},{"i":127,"v":-0.023,"d":"u"},{"i":128,"v":-0.073,"d":"u"},{"i":129,"v":-0.175,"d":"u"},
{"i":130,"v":-0.180,"d":"u"},{"i":131,"v":-0.090,"d":"d"},{"i":132,"v":-0.017,"d":"d"},{"i":133,"v":-0.028,"d":"u"},{"i":134,"v":-0.034,"d":"u"},{"i":135,"v":-0.040,"d":"u"},{"i":136,"v":-0.118,"d":"u"},{"i":137,"v":-0.102,"d":"d"},{"i":138,"v":-0.243,"d":"u"},{"i":139,"v":-0.468,"d":"u"},
{"i":140,"v":-0.560,"d":"u"},{"i":141,"v":-0.555,"d":"d"}
]
},
"vconcat":[
{"width":1235,"height":471,
"resolve":{"axis":{"x":"independent","y":"independent"}},
"layer":[
{"data":{"name":"candles"},"mark":{"type":"rule","color":"black","strokeWidth":1,"clip":true},
"encoding":{"x":{"field":"i","type":"quantitative","title":null,"scale":{"domain":[-0.125,154.25],"nice":false,"zero":false},
"axis":{"values":[4,8,12,16,20,24,28,32,36,40,44,48,52,56,60,64,68,72,76,80,84,88,92,96,100,104,108,112,116,120,124,128,132,136,140,144,148,152],"labels":false,"ticks":false,"domain":false,"grid":true}},
"y":{"field":"l","type":"quantitative","title":null,"scale":{"domain":[71.0,75.995],"nice":false,"zero":false},
"axis":{"orient":"right","values":[71.35,71.70,72.05,72.40,72.75,73.10,73.45,73.80,74.15,74.50,74.85,75.20,75.55,75.90],"format":".2f","grid":true,"tickSize":4,"labelPadding":2,"domain":false,"labelFlush":false,"labelOverlap":false}},
"y2":{"field":"h"}}},
{"data":{"name":"candles"},"mark":{"type":"bar","size":4,"stroke":"black","strokeWidth":1,"clip":true},
"encoding":{"x":{"field":"i","type":"quantitative","axis":null},"y":{"field":"o","type":"quantitative","axis":null},"y2":{"field":"c"},
"fill":{"condition":{"test":"datum.c >= datum.o","value":"white"},"value":"black"}}},
{"data":{"name":"alligator"},"mark":{"type":"line","strokeWidth":2,"clip":true},
"encoding":{"x":{"field":"i","type":"quantitative","axis":null},"y":{"field":"v","type":"quantitative","axis":null},
"detail":{"field":"k","type":"nominal"},
"color":{"condition":[{"test":"datum.k === 'jaw'","value":"#0b50dc"},{"test":"datum.k === 'teeth'","value":"#ff0000"}],"value":"#00ee00"}}},
{"data":{"name":"fractals"},"mark":{"type":"point","filled":true,"size":110,"color":"#b8b8b8","stroke":"#8a8a8a","strokeWidth":0.6,"opacity":1,"clip":true},
"encoding":{"x":{"field":"i","type":"quantitative","axis":null},"y":{"field":"p","type":"quantitative","axis":null},
"shape":{"field":"d","type":"nominal","scale":{"domain":["up","down"],"range":["M0,-1L0.75,0.9L0,0.45L-0.75,0.9Z","M0,1L0.75,-0.9L0,-0.45L-0.75,-0.9Z"]},"legend":null}}},
{"data":{"values":[{}]},"mark":{"type":"rule","color":"#b00000","strokeWidth":1},"encoding":{"y":{"datum":71.28,"axis":null}}},
{"data":{"name":"signal"},"mark":{"type":"point","filled":true,"size":380,"fill":"white","stroke":"#ff3b3b","strokeWidth":1.2,"opacity":1,"shape":"M-0.3,-1L0.3,-1L0.3,0.15L0.85,0.15L0,1L-0.85,0.15L-0.3,0.15Z"},
"encoding":{"x":{"field":"i","type":"quantitative","axis":null},"y":{"field":"p","type":"quantitative","axis":null}}},
{"data":{"values":[{}]},"mark":{"type":"rect","color":"#c00000"},"encoding":{"x":{"datum":154.6,"axis":null},"x2":{"datum":158.3},"y":{"datum":71.225,"axis":null},"y2":{"datum":71.33}}},
{"data":{"values":[{}]},"mark":{"type":"text","text":"71.28","color":"white","fontSize":10,"align":"center","baseline":"middle"},"encoding":{"x":{"datum":156.45,"axis":null},"y":{"datum":71.278,"axis":null}}}
]},
{"width":1235,"height":99,
"layer":[
{"data":{"values":[{}]},"mark":{"type":"rule","color":"#c8c8c8","strokeDash":[3,3],"strokeWidth":1},"encoding":{"y":{"datum":0}}},
{"data":{"name":"ao"},"mark":{"type":"bar","size":5},
"encoding":{"x":{"field":"i","type":"quantitative","title":null,"scale":{"domain":[-0.125,154.25],"nice":false,"zero":false},
"axis":{"values":[4,8,12,16,20,24,28,32,36,40,44,48,52,56,60,64,68,72,76,80,84,88,92,96,100,104,108,112,116,120,124,128,132,136,140,144,148,152],"labels":false,"ticks":false,"domain":false,"grid":true}},
"y":{"field":"v","type":"quantitative","title":null,"scale":{"domain":[-1.785,1.079],"nice":false,"zero":false},
"axis":{"orient":"right","values":[-1.785,0,1.079],"format":".3f","grid":false,"tickSize":4,"labelPadding":2,"domain":false,"labelFlush":true,"labelOverlap":false}},
"y2":{"datum":0},
"color":{"condition":{"test":"datum.d === 'u'","value":"#008000"},"value":"#ff0000"}}},
{"data":{"values":[{}]},"mark":{"type":"text","text":"AOcust -0.990","align":"left","baseline":"top","dx":4,"dy":3,"fontSize":10.5,"color":"black"},"encoding":{"x":{"datum":-0.125},"y":{"datum":1.079}}}
]},
{"width":1235,"height":99,
"layer":[
{"data":{"values":[{}]},"mark":{"type":"rule","color":"#c8c8c8","strokeDash":[3,3],"strokeWidth":1},"encoding":{"y":{"datum":0}}},
{"data":{"name":"ac"},"mark":{"type":"bar","size":5},
"encoding":{"x":{"field":"i","type":"quantitative","title":null,"scale":{"domain":[-0.125,154.25],"nice":false,"zero":false},
"axis":{"values":[4,8,12,16,20,24,28,32,36,40,44,48,52,56,60,64,68,72,76,80,84,88,92,96,100,104,108,112,116,120,124,128,132,136,140,144,148,152],"labels":false,"ticks":false,"domain":false,"grid":true}},
"y":{"field":"v","type":"quantitative","title":null,"scale":{"domain":[-0.5867,0.2835],"nice":false,"zero":false},
"axis":{"orient":"right","values":[-0.5867,0,0.2835],"format":".4f","grid":false,"tickSize":4,"labelPadding":2,"domain":false,"labelFlush":true,"labelOverlap":false}},
"y2":{"datum":0},
"color":{"condition":{"test":"datum.d === 'u'","value":"#008000"},"value":"#ff0000"}}},
{"data":{"values":[{}]},"mark":{"type":"text","text":"ACcust -0.4413","align":"left","baseline":"top","dx":4,"dy":3,"fontSize":10.5,"color":"black"},"encoding":{"x":{"datum":-0.125},"y":{"datum":0.2835}}}
]},
{"width":1235,"height":99,
"layer":[
{"data":{"values":[{}]},"mark":{"type":"rule","color":"#c8c8c8","strokeDash":[3,3],"strokeWidth":1},"encoding":{"y":{"datum":0}}},
{"data":{"name":"gator"},"mark":{"type":"bar","size":5},
"encoding":{"x":{"field":"i","type":"quantitative","title":null,"scale":{"domain":[-0.125,154.25],"nice":false,"zero":false},
"axis":{"values":[0,4,8,12,16,20,24,28,32,36,40,44,48,52,56,60,64,68,72,76,80,84,88,92,96,100,104,108,112,116,120,124,128,132,136,140,144,148,152],"grid":true,"domain":false,"tickSize":5,"labelPadding":1,"labelAlign":"left","labelFlush":false,"labelOverlap":false,"labelBound":false,"labelFontSize":9.5,
"gridOpacity":{"condition":{"test":"datum.value === 0","value":0},"value":1},
"tickOpacity":{"condition":{"test":"datum.value % 8 === 0 && datum.value <= 136","value":1},"value":0},
"labelExpr":"(datum.value % 8 === 0 && datum.value <= 136) ? ['21 Feb 2025','21 Feb 23:00','24 Feb 08:00','24 Feb 16:00','25 Feb 03:00','25 Feb 11:00','25 Feb 19:00','26 Feb 06:00','26 Feb 14:00','26 Feb 22:00','27 Feb 09:00','27 Feb 17:00','28 Feb 04:00','28 Feb 12:00','28 Feb 20:00','3 Mar 05:00','3 Mar 13:00','3 Mar 21:00'][datum.value / 8] : ''"}},
"y":{"field":"v","type":"quantitative","title":null,"scale":{"domain":[-0.855,0.825],"nice":false,"zero":false},
"axis":{"orient":"right","values":[-0.855,0,0.825],"format":".3f","grid":false,"tickSize":4,"labelPadding":2,"domain":false,"labelFlush":true,"labelOverlap":false}},
"y2":{"datum":0},
"color":{"condition":{"test":"datum.d === 'u'","value":"#008000"},"value":"#ff0000"}}},
{"data":{"values":[{}]},"mark":{"type":"text","text":"GatorCust 0.527 -0.555","align":"left","baseline":"top","dx":4,"dy":3,"fontSize":10.5,"color":"black"},"encoding":{"x":{"datum":-0.125},"y":{"datum":0.825}}}
]}
]
}
